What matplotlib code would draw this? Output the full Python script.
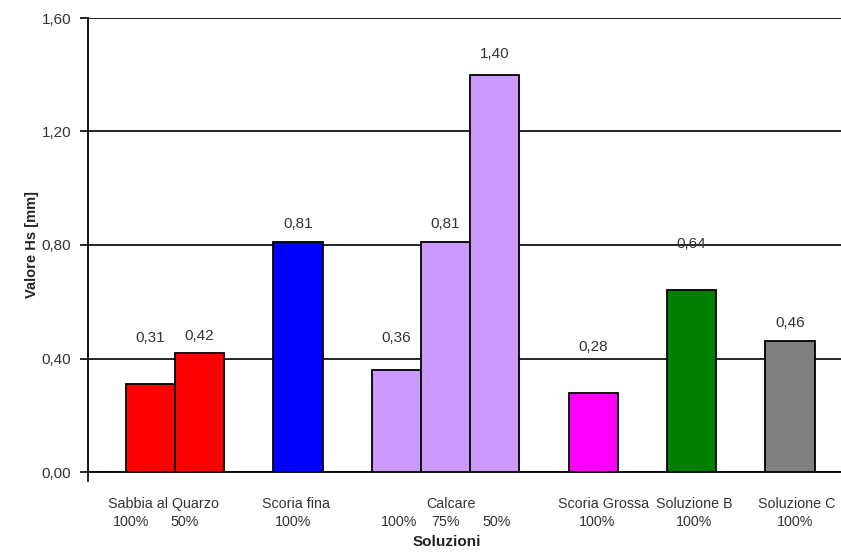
"""
Grafico a barre: valore Hs [mm] per le diverse soluzioni.
"""

import matplotlib
matplotlib.use('Agg')
import matplotlib.pyplot as plt
import matplotlib.ticker as ticker
import numpy as np

# ── Dati ──────────────────────────────────────────────────────────────────────

GROUPS       = ["Sabbia al Quarzo", "Scoria fina", "Calcare",
                "Scoria Grossa", "Soluzione B", "Soluzione C"]
GROUP_SIZES  = [2, 1, 3, 1, 1, 1]
PERCENT      = ["100%", "50%", "100%", "100%", "75%", "50%",
                "100%", "100%", "100%"]
VALUES       = [0.31, 0.42, 0.81, 0.36, 0.81, 1.40, 0.28, 0.64, 0.46]
VALUE_LABELS = ["0,31", "0,42", "0,81", "0,36", "0,81", "1,40",
                "0,28", "0,64", "0,46"]

# ── Stile ─────────────────────────────────────────────────────────────────────

GROUP_COLORS = ['#FF0000', '#0000FF', '#CC99FF', '#FF00FF', '#008000', '#808080']
# distanza (pixel) tra la cima della barra e il centro dell'etichetta
LABEL_GAP_PX = [46, 17, 18, 32, 18, 21, 46, 46, 18]
# spostamenti orizzontali (pixel) delle scritte sotto l'asse, come nell'originale
GROUP_SHIFT_PX = [-12, -2, 5, 10, 3, 7]
PCT_SHIFT_PX   = [-19, -15, -5, 3, 0, 2, 4, 2, 5]
FONT = ['Liberation Sans', 'DejaVu Sans']
PX = 0.72  # 1 pixel in punti a dpi=100

plt.rcParams['font.family'] = FONT

# posizioni: barre adiacenti nel gruppo, uno spazio di una barra tra gruppi
positions, colors, group_centers = [], [], []
x = 0.77
for size, col in zip(GROUP_SIZES, GROUP_COLORS):
    xs = [x + 0.5 + i for i in range(size)]
    positions += xs
    colors += [col] * size
    group_centers.append(np.mean(xs))
    x += size + 1
positions = np.array(positions)

fig = plt.figure(figsize=(8.41, 5.52), dpi=100)
ax = fig.add_axes([88 / 841, 1 - 472 / 552, 1 - 88 / 841, (472 - 18) / 552])

ax.bar(positions, VALUES, width=1.0, color=colors,
       edgecolor='black', linewidth=1.3, zorder=3)

for xp, v, lab, gap in zip(positions, VALUES, VALUE_LABELS, LABEL_GAP_PX):
    ax.annotate(lab, (xp, v), xytext=(0, gap * PX), textcoords='offset points',
                ha='center', va='center', fontsize=11, color='#333333', zorder=5)

ax.set_xlim(0, (841 - 88) / 49.2)
ax.set_ylim(0, 1.60)
ax.yaxis.set_major_locator(ticker.MultipleLocator(0.40))
ax.yaxis.set_major_formatter(
    ticker.FuncFormatter(lambda v, _: f"{v:.2f}".replace('.', ',')))
ax.tick_params(axis='y', labelsize=11, labelcolor='#333333',
               length=6, width=1.2, direction='out', pad=6)
ax.set_xticks([])

ax.grid(axis='y', color='black', linewidth=1.2, zorder=0)
ax.set_axisbelow(True)

for side in ('top', 'right'):
    ax.spines[side].set_visible(False)
for side in ('left', 'bottom'):
    ax.spines[side].set_linewidth(1.3)

# piccolo segno sotto l'origine
ax.plot([0, 0], [0, -0.03], color='black', linewidth=1.2, clip_on=False)

# etichette di categoria
for c, name, dx in zip(group_centers, GROUPS, GROUP_SHIFT_PX):
    ax.annotate(name, (c, 0), xycoords=('data', 'axes fraction'),
                xytext=(dx * PX, -32 * PX), textcoords='offset points',
                ha='center', va='center', fontsize=10.3, color='#333333')
for xp, pct, dx in zip(positions, PERCENT, PCT_SHIFT_PX):
    ax.annotate(pct, (xp, 0), xycoords=('data', 'axes fraction'),
                xytext=(dx * PX, -50 * PX), textcoords='offset points',
                ha='center', va='center', fontsize=10.3, color='#333333')

fig.text(447 / 841, 1 - 542 / 552, "Soluzioni", ha='center', va='center',
         fontsize=11, fontweight='bold', color='#222222')
fig.text(32 / 841, 1 - 245 / 552, "Valore Hs [mm]", ha='center', va='center',
         rotation=90, fontsize=10.5, fontweight='bold', color='#222222')

fig.savefig('out.png', dpi=100, facecolor='white')
